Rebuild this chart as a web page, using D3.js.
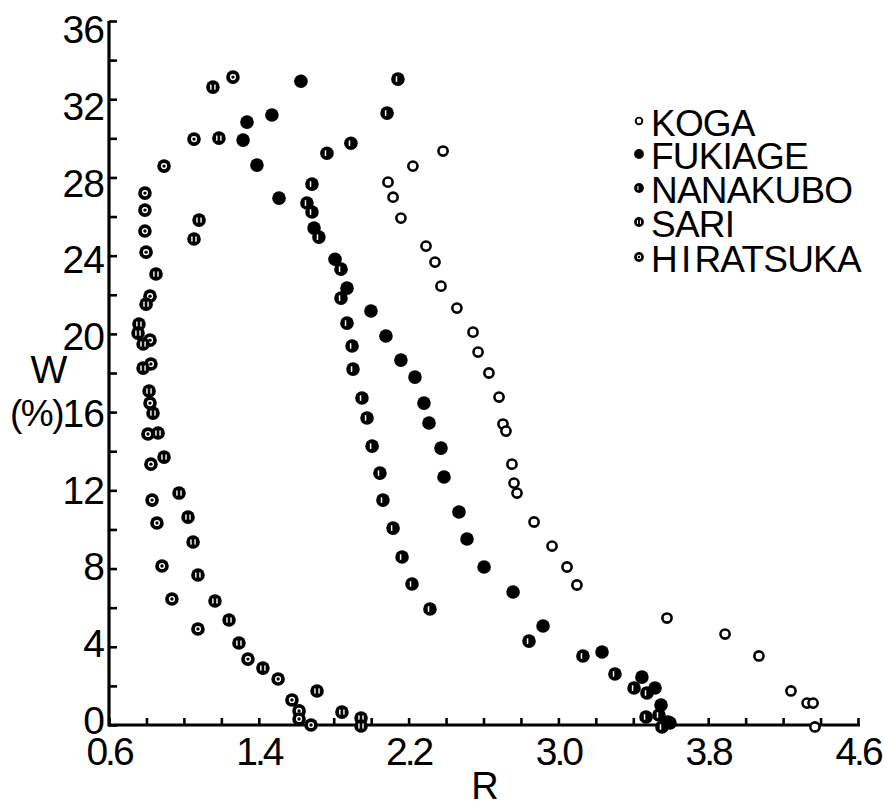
<!DOCTYPE html>
<html>
<head>
    <meta charset="utf-8" />
    <title>W vs R</title>
    <script src="https://d3js.org/d3.v7.min.js" charset="utf-8"></script>
    <style>
        body { margin: 0; background: #fff; }
        text { font-family: "Liberation Sans", Arial, sans-serif; fill: #000; }
    </style>
</head>
<body>
    <script>
        // Series values: [R, W(%)]
        const koga = [
            [2.384, 29.35], [2.223, 28.58], [2.090, 27.76], [2.117, 26.99], [2.159, 25.92],
            [2.293, 24.49], [2.341, 23.67], [2.373, 22.44], [2.458, 21.32], [2.544, 20.09],
            [2.571, 19.07], [2.629, 18.00], [2.683, 16.77], [2.704, 15.39], [2.720, 15.03],
            [2.752, 13.34], [2.763, 12.37], [2.779, 11.86], [2.870, 10.38], [2.966, 9.15],
            [3.046, 8.08], [3.099, 7.16], [3.580, 5.47], [3.890, 4.65], [4.071, 3.53],
            [4.242, 1.74], [4.328, 1.12], [4.360, 1.12], [4.370, -0.1]
        ];
        const fukiage = [
            [1.625, 32.92], [1.470, 31.19], [1.337, 30.83], [1.316, 29.91], [1.390, 28.63],
            [1.508, 26.94], [1.695, 25.41], [1.807, 23.82], [1.871, 22.34], [1.999, 21.17],
            [2.079, 19.89], [2.159, 18.66], [2.234, 17.79], [2.282, 16.46], [2.309, 15.44],
            [2.373, 14.16], [2.389, 12.68], [2.469, 10.89], [2.512, 9.51], [2.603, 8.08],
            [2.758, 6.80], [2.918, 5.06], [3.233, 3.73], [3.446, 2.45], [3.516, 1.89],
            [3.548, 1.02], [3.585, 0.15]
        ];
        const nanakubo = [
            [2.143, 33.03], [2.085, 31.29], [1.892, 29.75], [1.764, 29.24], [1.684, 27.66],
            [1.657, 26.69], [1.684, 26.23], [1.721, 24.95], [1.839, 23.31], [1.839, 21.83],
            [1.871, 20.55], [1.898, 19.38], [1.903, 18.20], [1.951, 16.72], [1.978, 15.70],
            [2.005, 14.26], [2.047, 12.88], [2.063, 11.50], [2.117, 10.07], [2.165, 8.59],
            [2.218, 7.21], [2.314, 5.93],
            [2.843, 4.29], [3.131, 3.53], [3.302, 2.61], [3.404, 1.89], [3.473, 1.64],
            [3.468, 0.41], [3.537, 0.51], [3.553, -0.1], [3.596, 0.1]
        ];
        const sari = [
            [1.155, 32.62], [1.187, 30.01], [1.081, 25.82], [1.054, 24.85], [0.851, 23.06],
            [0.798, 21.52], [0.760, 20.50], [0.755, 20.04], [0.782, 19.48], [0.782, 18.25],
            [0.814, 17.08], [0.835, 15.95], [0.862, 14.93], [0.894, 13.70], [0.974, 11.86],
            [1.022, 10.63], [1.049, 9.36], [1.075, 7.67], [1.166, 6.34], [1.241, 5.37],
            [1.294, 4.19], [1.422, 2.91], [1.711, 1.74], [1.844, 0.66], [1.946, 0.36],
            [1.946, -0.05]
        ];
        const hiratsuka = [
            [1.262, 33.13], [1.054, 29.96], [0.894, 28.58], [0.792, 27.20], [0.792, 26.33],
            [0.792, 25.26], [0.798, 24.18], [0.819, 21.93], [0.819, 19.68], [0.824, 18.46],
            [0.819, 16.46], [0.808, 14.88], [0.824, 13.34], [0.830, 11.50], [0.856, 10.33],
            [0.883, 8.13], [0.936, 6.44], [1.075, 4.91], [1.342, 3.37], [1.503, 2.35],
            [1.577, 1.28], [1.615, 0.72], [1.615, 0.31], [1.679, 0.0]
        ];

        const seriesNames = ["KOGA", "FUKIAGE", "NANAKUBO", "SARI", "HIRATSUKA"];
        const xTickLabels = [0.6, 1.4, 2.2, 3.0, 3.8, 4.6];
        const yTickLabels = [0, 4, 8, 12, 16, 20, 24, 28, 32, 36];

        const width = 885;
        const height = 803;

        const x = d3.scaleLinear().domain([0.6, 4.6]).range([109, 858]);
        const y = d3.scaleLinear().domain([0, 36]).range([725, 21]);
        // the printed y labels sit slightly off their ticks in the original
        const yLabel = d3.scaleLinear().domain([0, 36]).range([720, 29]);

        const svg = d3.select("body")
            .append("svg")
            .attr("width", width)
            .attr("height", height)
            .attr("viewBox", [0, 0, width, height]);

        // Minor ticks, pointing into the plot
        const xMinor = d3.range(0, 21).map(i => 0.6 + i * 0.2);
        const yMinor = d3.range(0, 19).map(i => i * 2);

        const xAxis = d3.axisBottom(x).tickValues(xMinor).tickSize(-7).tickFormat("");
        const yAxis = d3.axisLeft(y).tickValues(yMinor).tickSize(-8).tickFormat("");

        const gx = svg.append("g").attr("transform", `translate(0,${y(0)})`).call(xAxis);
        const gy = svg.append("g").attr("transform", `translate(${x(0.6)},0)`).call(yAxis);

        [gx, gy].forEach(g => {
            g.select(".domain").attr("stroke", "#000").attr("stroke-width", 3.2)
                .attr("d", g === gx ? `M${x(0.6)},0H${x(4.6) + 2}` : `M0,${y(36)}V${y(0) + 1.5}`);
            g.selectAll(".tick line").attr("stroke", "#000").attr("stroke-width", 2.6);
        });

        // Tick labels
        svg.append("g").selectAll("text")
            .data(xTickLabels)
            .join("text")
            .attr("x", d => x(d))
            .attr("y", 765)
            .attr("text-anchor", "middle")
            .attr("font-size", 39)
            .attr("letter-spacing", -3)
            .text(d => d.toFixed(1));

        svg.append("g").selectAll("text")
            .data(yTickLabels)
            .join("text")
            .attr("x", 104)
            .attr("y", d => yLabel(d))
            .attr("dy", "0.36em")
            .attr("text-anchor", "end")
            .attr("font-size", 39)
            .attr("letter-spacing", -1)
            .text(d => d);

        // Axis titles
        svg.append("text")
            .attr("x", 485).attr("y", 799)
            .attr("text-anchor", "middle")
            .attr("font-size", 38)
            .text("R");

        svg.append("text")
            .attr("x", 49).attr("y", 383)
            .attr("text-anchor", "middle")
            .attr("font-size", 39)
            .text("W");

        svg.append("text")
            .attr("x", 63).attr("y", yLabel(16))
            .attr("dy", "0.36em")
            .attr("text-anchor", "end")
            .attr("font-size", 37)
            .attr("letter-spacing", -1.5)
            .text("(%)");

        // Marker drawing for each station
        function marker(g, name, s) {
            const r = 6.8 * s;
            if (name === "KOGA") {
                g.append("circle").attr("r", 4.6 * s).attr("fill", "#fff")
                    .attr("stroke", "#000").attr("stroke-width", 2.6 * s);
                return;
            }
            g.append("circle").attr("r", r).attr("fill", "#000");
            if (name === "NANAKUBO") {
                g.append("rect").attr("x", -2.2 * s).attr("y", -2.8 * s)
                    .attr("width", 1.5 * s).attr("height", 5.6 * s).attr("fill", "#fff");
            } else if (name === "SARI") {
                [-2.8, 1.3].forEach(dx => g.append("rect").attr("x", dx * s).attr("y", -2.6 * s)
                    .attr("width", 1.4 * s).attr("height", 5.2 * s).attr("fill", "#fff"));
            } else if (name === "HIRATSUKA") {
                g.append("circle").attr("r", 3.1 * s).attr("fill", "#fff");
                g.append("circle").attr("r", 1.7 * s).attr("fill", "#000");
            }
        }

        const seriesData = {
            KOGA: koga, FUKIAGE: fukiage, NANAKUBO: nanakubo, SARI: sari, HIRATSUKA: hiratsuka
        };

        // Points
        ["HIRATSUKA", "SARI", "NANAKUBO", "FUKIAGE", "KOGA"].forEach(name => {
            svg.append("g").selectAll("g")
                .data(seriesData[name])
                .join("g")
                .attr("transform", d => `translate(${x(d[0])},${y(d[1])})`)
                .each(function() { marker(d3.select(this), name, 1); });
        });

        // Legend
        const legend = svg.append("g");
        const baselines = [136, 169, 203, 237, 272];
        seriesNames.forEach((name, i) => {
            const m = legend.append("g").attr("transform", `translate(639,${baselines[i] - 15})`);
            marker(m, name, 0.72);
            const t = legend.append("text")
                .attr("x", 651).attr("y", baselines[i])
                .attr("font-size", 37)
                .attr("letter-spacing", -0.8);
            if (name === "HIRATSUKA") {
                t.append("tspan").text("H");
                t.append("tspan").attr("dx", 4).text("I");
                t.append("tspan").attr("dx", 4).text("RATSUKA");
            } else {
                t.text(name);
            }
        });
    </script>
</body>
</html>
